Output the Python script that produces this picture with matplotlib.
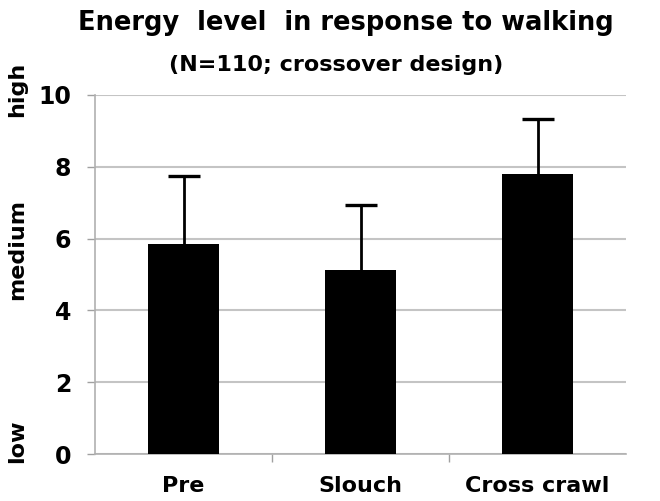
import numpy as np
import matplotlib
matplotlib.use("Agg")
import matplotlib.pyplot as plt

# data
conditions = ["Pre", "Slouch", "Cross crawl"]
energy_mean = [5.84, 5.12, 7.79]
energy_err = [1.89, 1.82, 1.54]
y_ticks = [0, 2, 4, 6, 8, 10]

plt.rcParams['font.family'] = ['DejaVu Sans']
plt.rcParams['font.weight'] = 'bold'

fig = plt.figure(figsize=(6.6, 5.01), dpi=100)
ax = fig.add_axes([95 / 660, 47 / 501, 531 / 660, 359 / 501])

x = np.arange(len(conditions))
mean = np.array(energy_mean)
err = np.array(energy_err)
ax.bar(x, mean, width=0.4, color='black', zorder=3)
# upper error bars only: stem + cap on top
ax.errorbar(x, mean, yerr=[np.zeros(len(x)), err], fmt='none',
            ecolor='black', elinewidth=2.0, capsize=0, zorder=4)
ax.plot(x, mean + err, ls='none', marker='_', markersize=23,
        markeredgewidth=2.4, color='black', zorder=4)

ax.set_xlim(-0.5, 2.5)
ax.set_ylim(0, 10)
ax.set_yticks(y_ticks)
ax.set_yticklabels([str(t) for t in y_ticks], fontsize=17, fontweight='bold')
ax.yaxis.grid(True, color='#c4c4c4', linewidth=1.5, zorder=0)
ax.set_axisbelow(True)

ax.set_xticks(x)
ax.set_xticklabels(conditions, fontsize=16, fontweight='bold')
ax.tick_params(axis='x', length=0, pad=16)
ax.set_xticks([0.5, 1.5], minor=True)
ax.tick_params(axis='x', which='minor', length=6, color='#a0a0a0', width=1)
ax.tick_params(axis='y', length=6, color='#a0a0a0', width=1, pad=11)

for s in ['top', 'right']:
    ax.spines[s].set_visible(False)
for s in ['left', 'bottom']:
    ax.spines[s].set_color('#b0b0b0')
    ax.spines[s].set_linewidth(1.2)

# qualitative labels on the left
fig.text(17 / 660, 1 - 89 / 501, "high", rotation=90, ha='center', va='center',
         fontsize=16, fontweight='bold')
fig.text(17 / 660, 1 - 249 / 501, "medium", rotation=90, ha='center', va='center',
         fontsize=16, fontweight='bold')
fig.text(17 / 660, 1 - 441 / 501, "low", rotation=90, ha='center', va='center',
         fontsize=16, fontweight='bold')

fig.text(346 / 660, 1 - 30 / 501, "Energy  level  in response to walking",
         ha='center', va='baseline', fontsize=18.5, fontweight='bold')
fig.text(336 / 660, 1 - 71 / 501, "(N=110; crossover design)",
         ha='center', va='baseline', fontsize=16, fontweight='bold')

fig.savefig("out.png", dpi=100)
